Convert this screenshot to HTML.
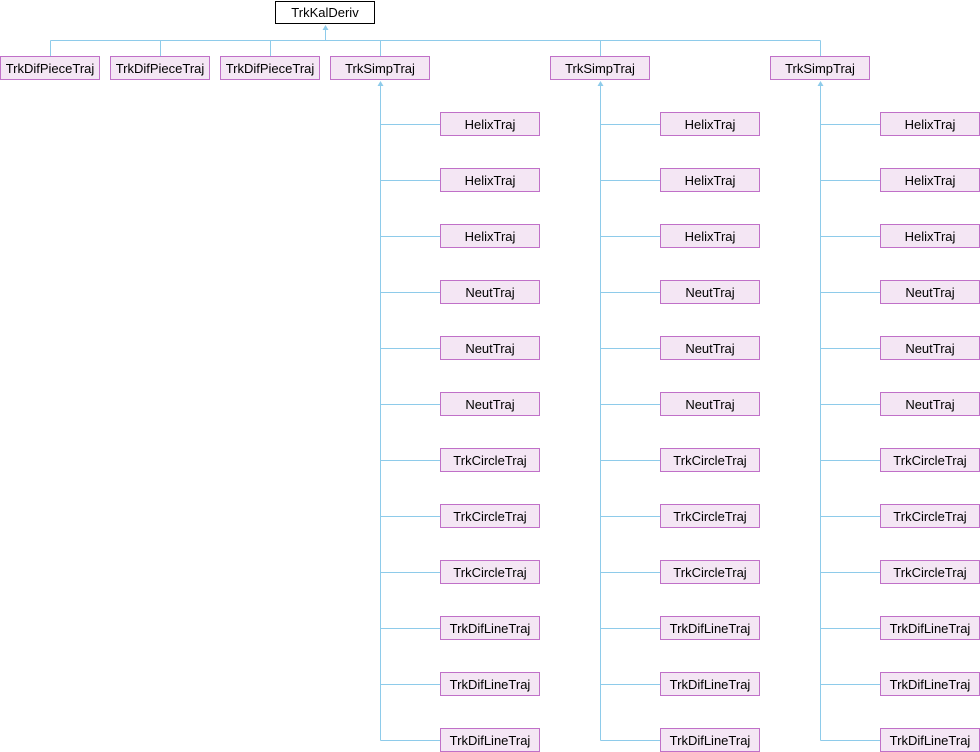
<!DOCTYPE html>
<html><head><meta charset="utf-8"><style>
html,body{margin:0;padding:0;background:#fff;}
svg{display:block}
text{font-family:"Liberation Sans",sans-serif;font-size:13px;fill:#000;text-anchor:middle}
.b{fill:#f4e6f4;stroke:#c070c8;stroke-width:1}
.l{stroke:#8ecbea;stroke-width:1;fill:none}
.a{fill:#8ecbea}
</style></head><body>
<svg width="980" height="752" viewBox="0 0 980 752">
<defs>
<g id="col">
<path class="l" d="M0.5,86 V740.5"/>
<polygon class="a" points="0.5,81 -2.5,86 3.5,86"/>
<path class="l" d="M0.5,124.5H60 M0.5,180.5H60 M0.5,236.5H60 M0.5,292.5H60 M0.5,348.5H60 M0.5,404.5H60 M0.5,460.5H60 M0.5,516.5H60 M0.5,572.5H60 M0.5,628.5H60 M0.5,684.5H60 M0.5,740.5H60"/>
<rect class="b" x="60.5" y="112.5" width="99" height="23"/>
<rect class="b" x="60.5" y="168.5" width="99" height="23"/>
<rect class="b" x="60.5" y="224.5" width="99" height="23"/>
<rect class="b" x="60.5" y="280.5" width="99" height="23"/>
<rect class="b" x="60.5" y="336.5" width="99" height="23"/>
<rect class="b" x="60.5" y="392.5" width="99" height="23"/>
<rect class="b" x="60.5" y="448.5" width="99" height="23"/>
<rect class="b" x="60.5" y="504.5" width="99" height="23"/>
<rect class="b" x="60.5" y="560.5" width="99" height="23"/>
<rect class="b" x="60.5" y="616.5" width="99" height="23"/>
<rect class="b" x="60.5" y="672.5" width="99" height="23"/>
<rect class="b" x="60.5" y="728.5" width="99" height="23"/>
<text x="110" y="129">HelixTraj</text>
<text x="110" y="185">HelixTraj</text>
<text x="110" y="241">HelixTraj</text>
<text x="110" y="297">NeutTraj</text>
<text x="110" y="353">NeutTraj</text>
<text x="110" y="409">NeutTraj</text>
<text x="110" y="465">TrkCircleTraj</text>
<text x="110" y="521">TrkCircleTraj</text>
<text x="110" y="577">TrkCircleTraj</text>
<text x="110" y="633">TrkDifLineTraj</text>
<text x="110" y="689">TrkDifLineTraj</text>
<text x="110" y="745">TrkDifLineTraj</text>
</g>
</defs>
<rect x="275.5" y="1.5" width="99" height="22" fill="#fff" stroke="#000"/>
<text x="325" y="17">TrkKalDeriv</text>
<path class="l" d="M325.5,30 V40.5 M50.5,40.5 H820.5 M50.5,40.5V56 M160.5,40.5V56 M270.5,40.5V56 M380.5,40.5V56 M600.5,40.5V56 M820.5,40.5V56"/>
<polygon class="a" points="325.5,25 322.5,30 328.5,30"/>
<rect class="b" x="0.5" y="56.5" width="99" height="23"/>
<rect class="b" x="110.5" y="56.5" width="99" height="23"/>
<rect class="b" x="220.5" y="56.5" width="99" height="23"/>
<rect class="b" x="330.5" y="56.5" width="99" height="23"/>
<rect class="b" x="550.5" y="56.5" width="99" height="23"/>
<rect class="b" x="770.5" y="56.5" width="99" height="23"/>
<text x="50" y="73">TrkDifPieceTraj</text>
<text x="160" y="73">TrkDifPieceTraj</text>
<text x="270" y="73">TrkDifPieceTraj</text>
<text x="380" y="73">TrkSimpTraj</text>
<text x="600" y="73">TrkSimpTraj</text>
<text x="820" y="73">TrkSimpTraj</text>
<use href="#col" x="380"/>
<use href="#col" x="600"/>
<use href="#col" x="820"/>
</svg>
</body></html>
